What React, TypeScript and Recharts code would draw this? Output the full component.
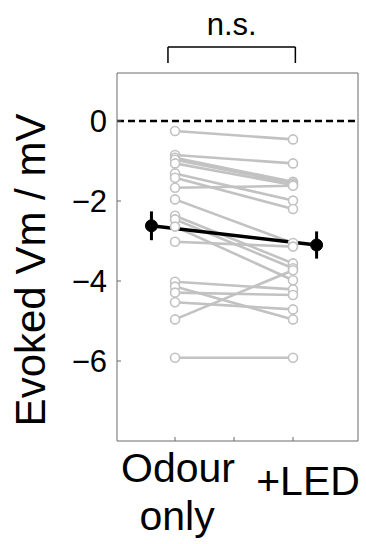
import React from "react";
import {
  ComposedChart,
  Line,
  XAxis,
  YAxis,
  ReferenceLine,
  ErrorBar,
  Label,
} from "recharts";

// Conditions (x positions) and labels
const conditionX = [1, 2];
const conditionLabels = [["Odour", "only"], ["+LED"]];
const xTicks = [1, 1.5, 2];
const yTicks = [0, -2, -4, -6];

// Per-cell evoked Vm (mV)
const odourOnly = [-0.25, -0.85, -0.92, -0.97, -1.06, -1.31, -1.42, -1.67, -1.96, -2.37, -2.46, -2.64, -3.02, -4.02, -4.14, -4.29, -4.53, -4.96, -5.92];
const withLed = [-0.46, -1.06, -1.52, -1.56, -1.6, -1.99, -2.2, -1.62, -3.05, -3.56, -3.68, -3.98, -3.14, -4.21, -4.96, -4.35, -4.71, -3.73, -5.92];

// Mean ± SEM, drawn offset from the condition positions
const meanX = [0.8, 2.2];
const meanValues = [-2.62, -3.1];
const meanErr = [0.36, 0.34];

// Significance bracket
const bracketX = [0.94, 2.02];
const bracketY = [1.45, 1.85];
const bracketText = "n.s.";

const FONT = "'Liberation Sans', Arial, Helvetica, sans-serif";
const GRAY = "#c2c2c2";
const AXIS = "#6b6b6b";

const pairData = odourOnly.map((v, i) => [
  { x: conditionX[0], v },
  { x: conditionX[1], v: withLed[i] },
]);
const meanData = meanX.map((x, i) => ({ x, v: meanValues[i], err: meanErr[i] }));

const BottomTick = (props: any) => {
  const { x, y, payload } = props;
  const idx = conditionX.indexOf(payload.value);
  if (idx < 0) return null;
  const lines = conditionLabels[idx];
  if (idx === 0) {
    return (
      <g>
        <text x={x + 3} y={y + 41} textAnchor="middle" fontSize={41} fontFamily={FONT} fill="#000">{lines[0]}</text>
        <text x={x + 2} y={y + 89} textAnchor="middle" fontSize={41} fontFamily={FONT} fill="#000">{lines[1]}</text>
      </g>
    );
  }
  return (
    <text x={x + 15} y={y + 54} textAnchor="middle" fontSize={41} fontFamily={FONT} fill="#000">{lines[0]}</text>
  );
};

const LeftTick = (props: any) => {
  const { x, y, payload } = props;
  const s = payload.value < 0 ? "\u2212" + Math.abs(payload.value) : String(payload.value);
  return (
    <text x={x} y={y + 11} textAnchor="end" fontSize={31} fontFamily={FONT} fill="#000">{s}</text>
  );
};

const GrayDot = (props: any) => {
  const { cx, cy } = props;
  return <circle cx={cx} cy={cy} r={4.5} fill="#fff" stroke={GRAY} strokeWidth={1.6} />;
};

export default function App() {
  return (
    <div style={{ position: "absolute", left: 0, top: 0 }}>
      <ComposedChart width={366} height={544} margin={{ top: 0, right: 0, bottom: 0, left: 0 }}>
        <XAxis
          xAxisId="b"
          type="number"
          dataKey="x"
          domain={[0.508, 2.551]}
          ticks={xTicks}
          orientation="bottom"
          height={103}
          tickSize={-4}
          tickMargin={4}
          stroke={AXIS}
          tickLine={{ stroke: AXIS }}
          tick={<BottomTick />}
          interval={0}
          allowDataOverflow
        />
        <XAxis
          xAxisId="t"
          type="number"
          domain={[0.508, 2.551]}
          ticks={xTicks}
          orientation="top"
          height={73}
          tickSize={-4}
          stroke={AXIS}
          tickLine={{ stroke: AXIS }}
          tick={false}
          allowDataOverflow
        />
        <YAxis
          yAxisId="l"
          type="number"
          domain={[-8, 1.2]}
          ticks={yTicks}
          orientation="left"
          width={117}
          tickSize={-4}
          tickMargin={14}
          stroke={AXIS}
          tickLine={{ stroke: AXIS }}
          tick={<LeftTick />}
          interval={0}
          allowDataOverflow
        >
          <Label
            content={(p: any) => {
              const vb = p.viewBox || {};
              const cx = 30 + 15;
              const cy = vb.y + vb.height / 2 + 13;
              return (
                <text
                  x={cx}
                  y={cy}
                  transform={`rotate(-90 ${cx} ${cy})`}
                  textAnchor="middle"
                  fontSize={42}
                  fontFamily={FONT}
                  fill="#000"
                >
                  Evoked Vm / mV
                </text>
              );
            }}
          />
        </YAxis>
        <YAxis
          yAxisId="r"
          type="number"
          domain={[-8, 1.2]}
          ticks={yTicks}
          orientation="right"
          width={8}
          tickSize={-4}
          stroke={AXIS}
          tickLine={{ stroke: AXIS }}
          tick={false}
          allowDataOverflow
        />
        <ReferenceLine
          xAxisId="b"
          yAxisId="l"
          y={0}
          stroke="#000"
          strokeWidth={2.5}
          strokeDasharray="7 4"
        />
        {pairData.map((d, i) => (
          <Line
            key={i}
            xAxisId="b"
            yAxisId="l"
            data={d}
            dataKey="v"
            stroke={GRAY}
            strokeWidth={2.6}
            dot={<GrayDot />}
            activeDot={false}
            isAnimationActive={false}
          />
        ))}
        <Line
          xAxisId="b"
          yAxisId="l"
          data={meanData}
          dataKey="v"
          stroke="#000"
          strokeWidth={3.5}
          dot={{ r: 6, fill: "#000", stroke: "#000", strokeWidth: 1 }}
          activeDot={false}
          isAnimationActive={false}
        >
          <ErrorBar dataKey="err" direction="y" width={0} stroke="#000" strokeWidth={3} isAnimationActive={false} />
        </Line>
        <ReferenceLine
          xAxisId="b"
          yAxisId="l"
          segment={[{ x: bracketX[0], y: bracketY[1] }, { x: bracketX[1], y: bracketY[1] }]}
          stroke="#000"
          strokeWidth={1.5}
          ifOverflow="visible"
        >
          <Label value={bracketText} position="top" offset={12} fontSize={31} fontFamily={FONT} fill="#000" />
        </ReferenceLine>
        <ReferenceLine
          xAxisId="b"
          yAxisId="l"
          segment={[{ x: bracketX[0], y: bracketY[0] }, { x: bracketX[0], y: bracketY[1] }]}
          stroke="#000"
          strokeWidth={1.5}
          ifOverflow="visible"
        />
        <ReferenceLine
          xAxisId="b"
          yAxisId="l"
          segment={[{ x: bracketX[1], y: bracketY[0] }, { x: bracketX[1], y: bracketY[1] }]}
          stroke="#000"
          strokeWidth={1.5}
          ifOverflow="visible"
        />
      </ComposedChart>
    </div>
  );
}
